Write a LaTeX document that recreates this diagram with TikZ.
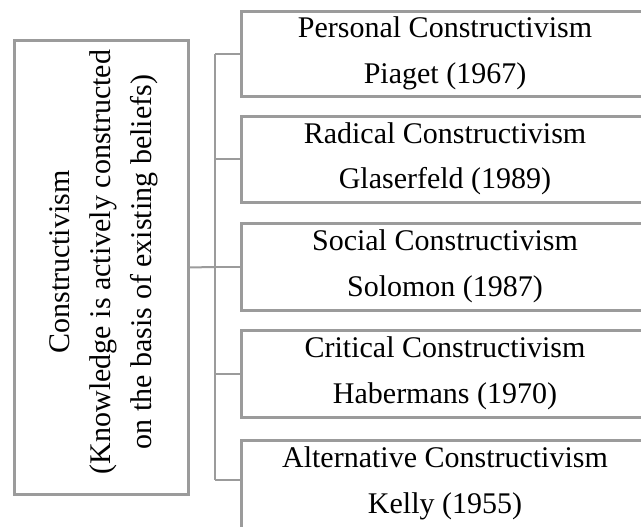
\documentclass[tikz,border=0pt]{standalone}
\usepackage{fontspec}
\setmainfont{Liberation Serif}
\usetikzlibrary{calc}
\definecolor{framegray}{RGB}{155,155,155}
\tikzset{
  frame/.style={draw=framegray, line width=3pt, fill=white, inner sep=0pt, outer sep=0pt},
  link/.style={draw=framegray, line width=2pt},
  label/.style={inner sep=0pt, anchor=base, font=\fontsize{30}{46}\selectfont},
}
\begin{document}
\begin{tikzpicture}[x=1pt, y=-1pt]
\useasboundingbox (0,0) rectangle (641,527);

% main concept box, text turned on its side
\node[frame, minimum width=174pt, minimum height=453pt, anchor=north west] (main) at (14,41) {};
\node[inner sep=0pt, rotate=90, align=center, font=\fontsize{30}{41}\selectfont] (maintext) at (104,262)
  {Constructivism\\(Knowledge is actively constructed\\on the basis of  existing beliefs)};

% the five kinds of constructivism
\node[frame, minimum width=408pt, minimum height=85pt, anchor=north west] (b1) at (241,12) {};
\node[frame, minimum width=408pt, minimum height=85pt, anchor=north west] (b2) at (241,117) {};
\node[frame, minimum width=408pt, minimum height=87pt, anchor=north west] (b3) at (241,223) {};
\node[frame, minimum width=408pt, minimum height=87pt, anchor=north west] (b4) at (241,330) {};
\node[frame, minimum width=408pt, minimum height=110pt, anchor=north west] (b5) at (241,440) {};

\node[label] (t1a) at (445,38) {Personal Constructivism};
\node[label] (t1b) at (445,84) {Piaget (1967)};
\node[label] (t2a) at (445,143) {Radical Constructivism};
\node[label] (t2b) at (445,189) {Glaserfeld (1989)};
\node[label] (t3a) at (445,250) {Social Constructivism};
\node[label] (t3b) at (445,296) {Solomon (1987)};
\node[label] (t4a) at (445,357) {Critical Constructivism};
\node[label] (t4b) at (445,403) {Habermans (1970)};
\node[label] (t5a) at (445,467) {Alternative Constructivism};
\node[label] (t5b) at (445,513) {Kelly (1955)};

% bracket joining the main box to each kind
\coordinate (hub) at (215,267);
\coordinate (b5in) at ($(b5.north west)+(0,40)$);
\draw[link] (main.east) -- (hub);
\draw[link] (hub |- b1.west) -- (hub |- b5in);
\draw[link] (hub |- b1.west) -- (b1.west);
\draw[link] (hub |- b2.west) -- (b2.west);
\draw[link] (hub |- b3.west) -- (b3.west);
\draw[link] (hub |- b4.west) -- (b4.west);
\draw[link] (hub |- b5in) -- (b5in);
\end{tikzpicture}
\end{document}
